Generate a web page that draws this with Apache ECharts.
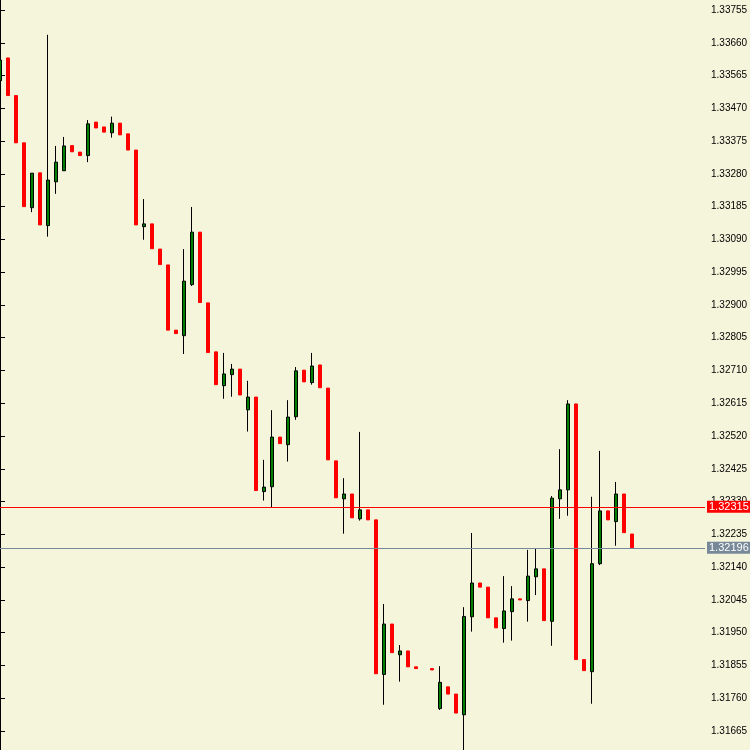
<!DOCTYPE html>
<html>
<head>
<meta charset="utf-8">
<script src="https://cdn.jsdelivr.net/npm/echarts@6/dist/echarts.min.js"></script>
<style>
  html, body { margin: 0; padding: 0; background: #f5f5dc; }
  #chart { width: 750px; height: 750px; }
</style>
</head>
<body>
<div id="chart"></div>
<script>
// bar number of each candle (bar 53 is blank in the picture)
const bars = [
  0, 1, 2, 3, 4, 5, 6, 7, 8, 9, 10, 11, 12, 13, 14, 15, 16, 17, 18, 19,
  20, 21, 22, 23, 24, 25, 26, 27, 28, 29, 30, 31, 32, 33, 34, 35, 36, 37, 38, 39,
  40, 41, 42, 43, 44, 45, 46, 47, 48, 49, 50, 51, 52, 54, 55, 56, 57, 58, 59,
  60, 61, 62, 63, 64, 65, 66, 67, 68, 69, 70, 71, 72, 73, 74, 75, 76, 77, 78, 79
];

const opens = [
  1.33550, 1.33616, 1.33507, 1.33370, 1.33182, 1.33283, 1.33130, 1.33257, 1.33289, 1.33362,
  1.33343, 1.33333, 1.33430, 1.33416, 1.33399, 1.33427, 1.33396, 1.33349, 1.33127, 1.33135,
  1.33062, 1.33016, 1.32827, 1.32811, 1.32959, 1.33111, 1.32906, 1.32764, 1.32666, 1.32698,
  1.32714, 1.32596, 1.32633, 1.32359, 1.32373, 1.32517, 1.32495, 1.32576, 1.32711, 1.32675,
  1.32726, 1.32659, 1.32448, 1.32338, 1.32352, 1.32280, 1.32306, 1.32277, 1.31829, 1.31975,
  1.31886, 1.31897, 1.31851, 1.31846, 1.31730, 1.31793, 1.31772, 1.31712, 1.31996,
  1.32094, 1.32082, 1.31993, 1.31962, 1.32011, 1.32048, 1.32043, 1.32112, 1.32135, 1.31983,
  1.32338, 1.32364, 1.32613, 1.31872, 1.31837, 1.32150, 1.32303, 1.32272, 1.32352, 1.32236
];

const closes = [
  1.33610, 1.33507, 1.33370, 1.33185, 1.33282, 1.33132, 1.33262, 1.33314, 1.33361, 1.33344,
  1.33333, 1.33425, 1.33413, 1.33401, 1.33427, 1.33393, 1.33349, 1.33132, 1.33135, 1.33063,
  1.33017, 1.32827, 1.32817, 1.32969, 1.33111, 1.32907, 1.32762, 1.32669, 1.32700, 1.32714,
  1.32639, 1.32633, 1.32362, 1.32372, 1.32517, 1.32498, 1.32575, 1.32709, 1.32677, 1.32723,
  1.32660, 1.32451, 1.32341, 1.32352, 1.32283, 1.32306, 1.32277, 1.31831, 1.31975, 1.31892,
  1.31897, 1.31851, 1.31846, 1.31842, 1.31806, 1.31772, 1.31717, 1.31997, 1.32094,
  1.32082, 1.31993, 1.31964, 1.32013, 1.32048, 1.32045, 1.32114, 1.32135, 1.31985, 1.32340,
  1.32364, 1.32613, 1.31872, 1.31840, 1.32150, 1.32303, 1.32277, 1.32352, 1.32240, 1.32196
];

const lows = [
  1.33548, 1.33507, 1.33370, 1.33185, 1.33169, 1.33132, 1.33098, 1.33222, 1.33289, 1.33344,
  1.33333, 1.33314, 1.33413, 1.33401, 1.33385, 1.33393, 1.33349, 1.33132, 1.33089, 1.33063,
  1.33017, 1.32827, 1.32817, 1.32758, 1.32955, 1.32907, 1.32762, 1.32669, 1.32628, 1.32634,
  1.32639, 1.32533, 1.32362, 1.32333, 1.32313, 1.32498, 1.32446, 1.32567, 1.32677, 1.32669,
  1.32660, 1.32451, 1.32341, 1.32237, 1.32283, 1.32275, 1.32277, 1.31831, 1.31741, 1.31892,
  1.31808, 1.31851, 1.31846, 1.31842, 1.31726, 1.31772, 1.31717, 1.31604, 1.31953,
  1.32082, 1.31993, 1.31964, 1.31921, 1.31927, 1.32045, 1.31982, 1.32059, 1.31985, 1.31912,
  1.32280, 1.32289, 1.31872, 1.31840, 1.31744, 1.32146, 1.32277, 1.32202, 1.32240, 1.32196
];

const highs = [
  1.33612, 1.33616, 1.33507, 1.33370, 1.33282, 1.33283, 1.33683, 1.33361, 1.33387, 1.33362,
  1.33343, 1.33436, 1.33430, 1.33416, 1.33446, 1.33427, 1.33396, 1.33349, 1.33207, 1.33135,
  1.33062, 1.33016, 1.32827, 1.33062, 1.33184, 1.33111, 1.32906, 1.32764, 1.32761, 1.32729,
  1.32714, 1.32680, 1.32633, 1.32451, 1.32595, 1.32517, 1.32624, 1.32720, 1.32711, 1.32761,
  1.32726, 1.32659, 1.32448, 1.32398, 1.32352, 1.32532, 1.32306, 1.32277, 1.32033, 1.31975,
  1.31914, 1.31897, 1.31851, 1.31846, 1.31853, 1.31793, 1.31772, 1.32024, 1.32239,
  1.32094, 1.32082, 1.31993, 1.32114, 1.32085, 1.32048, 1.32190, 1.32195, 1.32135, 1.32346,
  1.32482, 1.32624, 1.32613, 1.31872, 1.32344, 1.32477, 1.32303, 1.32387, 1.32352, 1.32236
];

// price levels shown as lines with tags on the axis
const lineLevels = [1.32315, 1.32196];
const lineColors = ["#ff0000", "#778899"];

// axis
const axisMin = 1.31570;
const axisMax = 1.33850;
const axisStep = 0.00095;


const candles = bars.map((b, i) => [b, opens[i], closes[i], lows[i], highs[i]]);

const chart = echarts.init(document.getElementById("chart"));

chart.setOption({
    backgroundColor: "#f5f5dc",
    animation: false,

    grid: {
        left: -4,
        right: 45,
        top: -22.77,
        bottom: -13.77,
        containLabel: false,
        outerBoundsMode: "none"
    },

    xAxis: {
        type: "value",
        min: -0.5,
        max: 88.125,
        show: false
    },

    yAxis: [
        {
            type: "value",
            position: "right",
            min: axisMin,
            max: axisMax,
            interval: axisStep,
            axisLine: { show: true, lineStyle: { color: "#000", width: 1 } },
            axisTick: { show: true, inside: false, length: 5, lineStyle: { color: "#000" } },
            axisLabel: {
                margin: 6,
                color: "#000",
                fontFamily: "Liberation Sans",
                fontSize: 10,
                formatter: v => v.toFixed(5)
            },
            splitLine: { show: false }
        },
        {
            type: "value",
            position: "left",
            offset: -4,
            axisLine: { show: true, lineStyle: { color: "#000", width: 2 } },
            axisTick: { show: false },
            axisLabel: { show: false },
            splitLine: { show: false }
        }
    ],

    series: [
        {
            type: "candlestick",
            encode: { x: 0, y: [1, 2, 3, 4] },
            data: candles,
            barWidth: 4,
            itemStyle: {
                color: "#008000",
                color0: "#ff0000",
                borderColor: "#000000",
                borderColor0: "#ff0000",
                borderWidth: 1
            },
            markLine: {
                silent: true,
                symbol: "none",
                precision: 5,
                animation: false,
                data: lineLevels.map((v, i) => ({
                    yAxis: v,
                    lineStyle: { color: lineColors[i], width: 1, type: "solid" },
                    label: {
                        show: true,
                        position: "end",
                        distance: 2,
                        formatter: v.toFixed(5),
                        color: "#fff",
                        backgroundColor: lineColors[i],
                        fontFamily: "Liberation Sans",
                        fontSize: 11,
                        padding: [1, 2, 0, 2]
                    }
                }))
            }
        }
    ]
});
</script>
</body>
</html>
